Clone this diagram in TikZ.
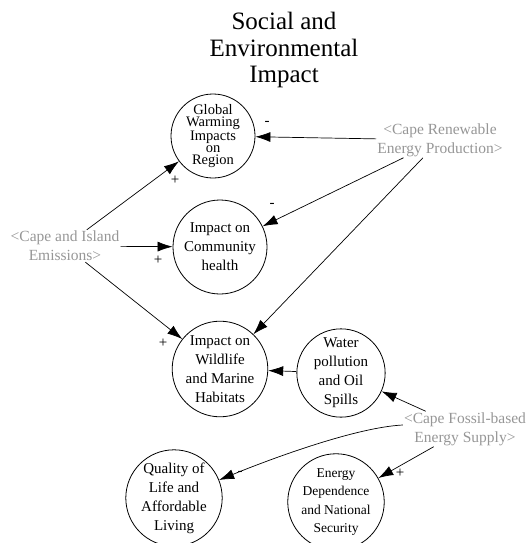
\documentclass[tikz,border=0pt]{standalone}
\usepackage{fontspec}
\setmainfont{Liberation Serif}
\usetikzlibrary{arrows.meta}
\definecolor{shadowgrey}{RGB}{150,150,150}
\begin{document}
\begin{tikzpicture}[x=1pt,y=-1pt,
  var/.style={circle,draw,line width=0.8pt,inner sep=0pt,align=center,font=\fontsize{15}{19}\selectfont},
  shadowvar/.style={text=shadowgrey,align=center,inner sep=1pt,font=\fontsize{15.5}{19}\selectfont},
  link/.style={line width=0.7pt,-{Latex[length=15pt,width=10pt]}},
  pol/.style={font=\fontsize{15}{15}\selectfont,inner sep=0pt}]
\useasboundingbox (0,0) rectangle (527,543);
\node[align=center,font=\fontsize{25}{26.7}\selectfont,inner sep=0pt] (title) at (284,50) {Social and\\Environmental\\Impact};

\node[var,minimum size=84pt,font=\fontsize{14.5}{12}\selectfont] (gw) at (213,136) {Global\\Warming\\Impacts\\on\\Region};
\node[var,minimum size=94pt] (ch) at (220,247) {Impact on\\Community\\health};
\node[var,minimum size=94pt] (wl) at (220,369) {Impact on\\Wildlife\\and Marine\\Habitats};
\node[var,minimum size=78pt] (wp) at (341,373) {Water\\pollution\\and Oil\\Spills};
\node[var,minimum size=94pt] (ql) at (174,498) {Quality of\\Life and\\Affordable\\Living};
\node[var,minimum size=86pt,font=\fontsize{13.5}{18.5}\selectfont] (ed) at (336,502) {Energy\\Dependence\\and National\\Security};

\node[shadowvar] (ren) at (440,140) {<Cape Renewable\\Energy Production>};
\node[shadowvar] (emi) at (65,246) {<Cape and Island\\Emissions>};
\node[shadowvar] (fos) at (465,429) {<Cape Fossil-based\\Energy Supply>};

\draw[link] (ren) -- (gw);
\draw[link] (ren) -- (ch);
\draw[link] (ren) -- (wl);
\draw[link] (emi) -- (gw);
\draw[link] (emi) -- (ch);
\draw[link] (emi) -- (wl);
\draw[link] (wp) -- (wl);
\draw[link] (fos) -- (wp);
\draw[link] (fos) -- (ed);
\draw[link] ([yshift=4pt]fos.west) .. controls +(-60,3) and +(50,-20) .. (ql);

\node[pol] (p1) at (267,123) {-};
\node[pol] (p2) at (272,205) {-};
\node[pol] (p3) at (175,180) {+};
\node[pol] (p4) at (158,260) {+};
\node[pol] (p5) at (163,343) {+};
\node[pol] (p6) at (240,473) {-};
\node[pol] (p7) at (400,473) {+};
\end{tikzpicture}
\end{document}
